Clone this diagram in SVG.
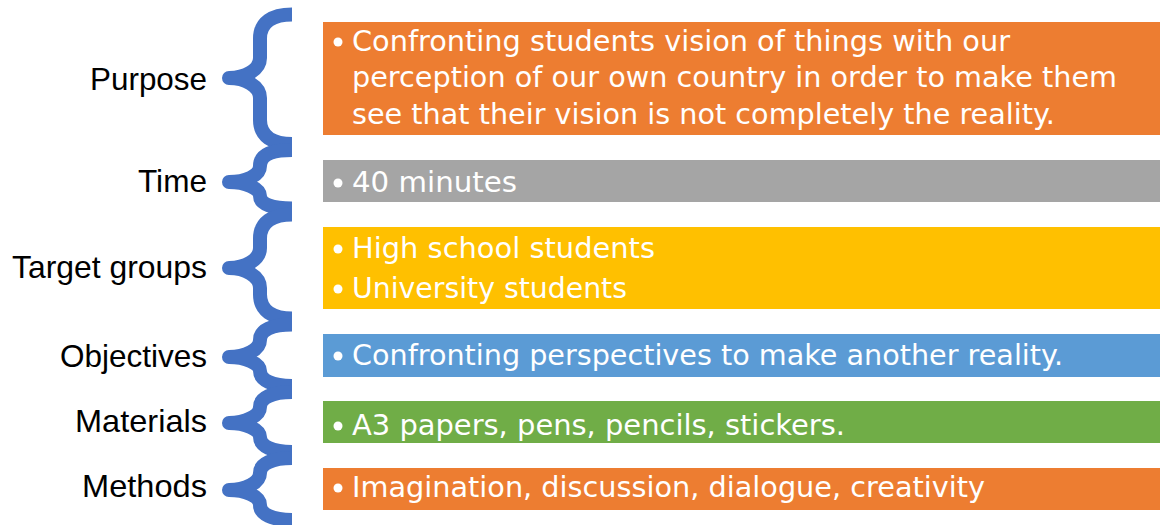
<svg xmlns="http://www.w3.org/2000/svg" width="1160" height="525" viewBox="0 0 1160 525">
<style>
.lbl{font-family:"Liberation Sans",Arial,sans-serif;font-size:32px;fill:#000;text-anchor:end}
.bt{font-family:"DejaVu Sans","Noto Sans",sans-serif;font-size:29px;fill:#fff}
.br{fill:none;stroke:#4472C4;stroke-width:14;stroke-linejoin:round;stroke-linecap:butt}
.dot{fill:#fff}
</style>
<rect width="1160" height="525" fill="#fff"/>
<g id="connectors">
<path class="br" d="M292 14.5 C272 14.5 260 22.5 260 38.5 L260 58 C260 70 245 78 229 78 C245 78 260 86 260 98 L260 120 C260 136 272 144 292 144"/>
<path class="br" d="M292 150 C272 150 260 154 260 166 C260 176 245 182 229 182 C245 182 260 188 260 196 C260 204 272 208.5 292 208.5"/>
<path class="br" d="M292 214.5 C272 214.5 260 222.5 260 238.5 L260 248 C260 260 245 268 229 268 C245 268 260 276 260 288 L260 294.5 C260 310.5 272 318.5 292 318.5"/>
<path class="br" d="M292 324.5 C272 324.5 260 330 260 340 C260 350 245 357 229 357 C245 357 260 363 260 371 C260 380 272 386 292 386"/>
<path class="br" d="M292 392 C272 392 260 398 260 407 C260 416 245 423 229 423 C245 423 260 429 260 437 C260 446 272 452 292 452"/>
<path class="br" d="M292 458 C272 458 260 464 260 473 C260 483 245 490 229 490 C245 490 260 496 260 505 C260 514 272 520 292 520"/>
</g>
<g id="label-purpose"><text class="lbl" x="207" y="90" textLength="117" lengthAdjust="spacingAndGlyphs">Purpose</text></g>
<g id="label-time"><text class="lbl" x="207" y="192" textLength="69" lengthAdjust="spacingAndGlyphs">Time</text></g>
<g id="label-target"><text class="lbl" x="207" y="278" textLength="195" lengthAdjust="spacingAndGlyphs">Target groups</text></g>
<g id="label-objectives"><text class="lbl" x="207" y="367" textLength="147" lengthAdjust="spacingAndGlyphs">Objectives</text></g>
<g id="label-materials"><text class="lbl" x="207" y="432" textLength="132" lengthAdjust="spacingAndGlyphs">Materials</text></g>
<g id="label-methods"><text class="lbl" x="207" y="497" textLength="125" lengthAdjust="spacingAndGlyphs">Methods</text></g>
<g id="box-purpose">
<rect x="323" y="22" width="837" height="113" fill="#ED7D31"/>
<circle class="dot" cx="338" cy="42" r="4.5"/>
<text class="bt" x="352" y="50.5" textLength="658" lengthAdjust="spacingAndGlyphs">Confronting students vision of things with our</text>
<text class="bt" x="352" y="87" textLength="765" lengthAdjust="spacingAndGlyphs">perception of our own country in order to make them</text>
<text class="bt" x="352" y="123.5" textLength="703" lengthAdjust="spacingAndGlyphs">see that their vision is not completely the reality.</text>
</g>
<g id="box-time">
<rect x="323" y="160" width="837" height="42" fill="#A5A5A5"/>
<circle class="dot" cx="338" cy="183" r="4.5"/>
<text class="bt" x="352" y="192" textLength="165" lengthAdjust="spacingAndGlyphs">40 minutes</text>
</g>
<g id="box-target">
<rect x="323" y="227" width="837" height="82" fill="#FFC000"/>
<circle class="dot" cx="338" cy="249" r="4.5"/>
<text class="bt" x="352" y="258" textLength="303" lengthAdjust="spacingAndGlyphs">High school students</text>
<circle class="dot" cx="338" cy="289" r="4.5"/>
<text class="bt" x="352" y="298" textLength="275" lengthAdjust="spacingAndGlyphs">University students</text>
</g>
<g id="box-objectives">
<rect x="323" y="334" width="837" height="43" fill="#5B9BD5"/>
<circle class="dot" cx="338" cy="356" r="4.5"/>
<text class="bt" x="352" y="365" textLength="711" lengthAdjust="spacingAndGlyphs">Confronting perspectives to make another reality.</text>
</g>
<g id="box-materials">
<rect x="323" y="401" width="837" height="42" fill="#70AD47"/>
<circle class="dot" cx="338" cy="426" r="4.5"/>
<text class="bt" x="352" y="435" textLength="493" lengthAdjust="spacingAndGlyphs">A3 papers, pens, pencils, stickers.</text>
</g>
<g id="box-methods">
<rect x="323" y="468" width="837" height="42" fill="#ED7D31"/>
<circle class="dot" cx="338" cy="488" r="4.5"/>
<text class="bt" x="352" y="497" textLength="633" lengthAdjust="spacingAndGlyphs">Imagination, discussion, dialogue, creativity</text>
</g>
</svg>
